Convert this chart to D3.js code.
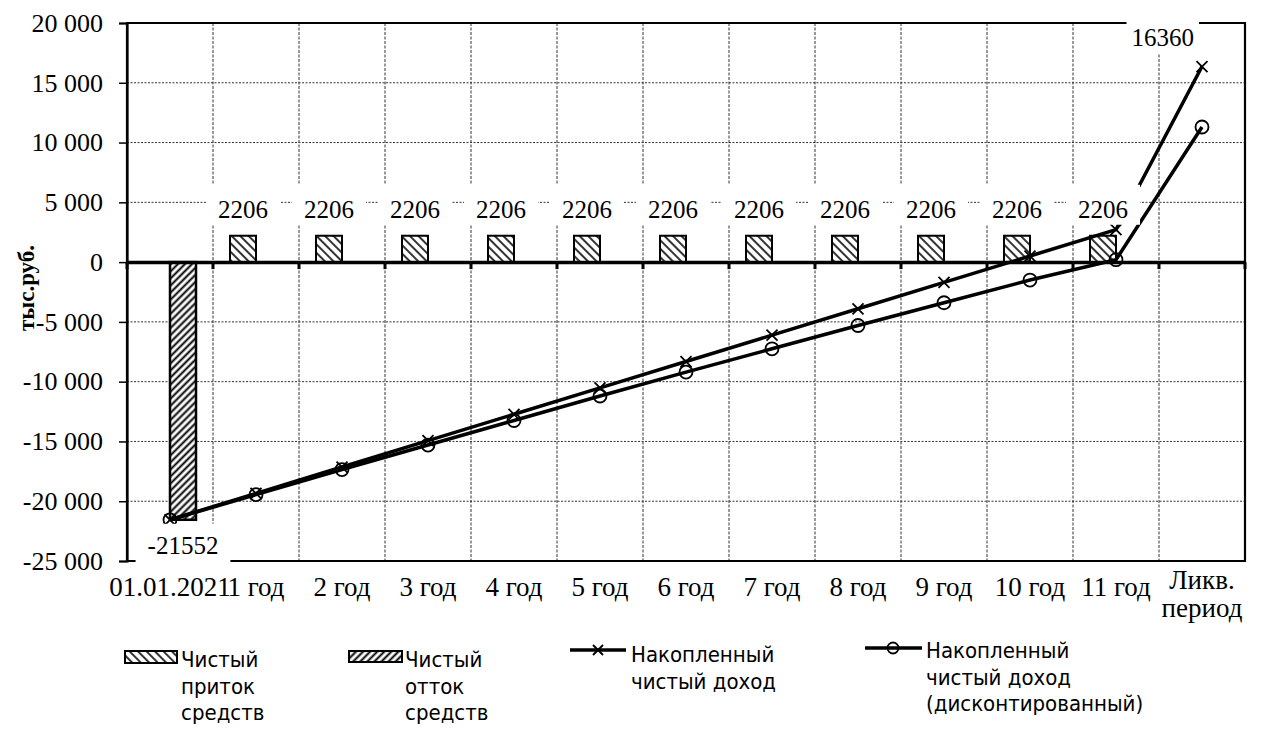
<!DOCTYPE html>
<html><head><meta charset="utf-8">
<script src="https://cdn.jsdelivr.net/npm/d3@7"></script>
<style>body{margin:0;background:#fff}svg{display:block}</style>
</head><body>
<svg id="c" width="1266" height="732"></svg>
<script>
// ---- data ----
const categories = ["01.01.2021","1 год","2 год","3 год","4 год","5 год","6 год","7 год","8 год","9 год","10 год","11 год","Ликв. период"];
const inflow     = [null,2206,2206,2206,2206,2206,2206,2206,2206,2206,2206,2206,null];
const outflow    = [-21552,null,null,null,null,null,null,null,null,null,null,null,null];
const cumulative = [-21552,-19346,-17140,-14934,-12728,-10522,-8316,-6110,-3904,-1698,508,2714,16360];
const discounted = [-21552,-19450,-17350,-15300,-13250,-11200,-9200,-7250,-5300,-3400,-1500,200,11300];
const yTicks     = [-25000,-20000,-15000,-10000,-5000,0,5000,10000,15000,20000];
const legendLabels = [["Чистый","приток","средств"],["Чистый","отток","средств"],["Накопленный","чистый доход"],["Накопленный","чистый доход","(дисконтированный)"]];
const yTitle = "тыс.руб.";

// ---- layout ----
const svg = d3.select("#c");
const L=127, R=1245, T=23, B=561;
const serif = "'Liberation Serif','Times New Roman',serif";
const sans = "'DejaVu Sans Condensed','DejaVu Sans',sans-serif";

const x = d3.scaleBand().domain(d3.range(categories.length)).range([L,R]).padding(0);
const x1 = d3.scaleBand().domain(["in","out"]).range([0,x.bandwidth()]).paddingInner(0).paddingOuter(0.654);
const y = d3.scaleLinear().domain([-25000,20000]).range([B,T]);
const cx = i => x(i)+x.bandwidth()/2;

const loc = d3.formatLocale({decimal:",",thousands:" ",grouping:[3],currency:["",""],minus:"-"});
const fmt = loc.format(",d");

// patterns
const defs = svg.append("defs");
const pIn = defs.append("pattern").attr("id","pIn").attr("patternUnits","userSpaceOnUse")
  .attr("width",6).attr("height",6).attr("patternTransform","rotate(-45)");
pIn.append("rect").attr("width",6).attr("height",6).attr("fill","#fff");
pIn.append("line").attr("x1",3).attr("x2",3).attr("y1",0).attr("y2",6).attr("stroke","#000").attr("stroke-width",1.6);
const pOut = defs.append("pattern").attr("id","pOut").attr("patternUnits","userSpaceOnUse")
  .attr("width",5).attr("height",5).attr("patternTransform","rotate(45)");
pOut.append("rect").attr("width",5).attr("height",5).attr("fill","#fff");
pOut.append("line").attr("x1",2.5).attr("x2",2.5).attr("y1",0).attr("y2",5).attr("stroke","#000").attr("stroke-width",2);

// grid
const grid = svg.append("g");
grid.selectAll("line.h").data(yTicks.filter(v=>v!==0&&v!==-25000&&v!==20000)).join("line")
  .attr("x1",L).attr("x2",R).attr("y1",d=>y(d)).attr("y2",d=>y(d))
  .attr("stroke","#333").attr("stroke-width",1).attr("stroke-dasharray","2,1.5");
grid.selectAll("line.v").data(d3.range(1,categories.length)).join("line")
  .attr("x1",d=>x(d)).attr("x2",d=>x(d)).attr("y1",T).attr("y2",B)
  .attr("stroke","#333").attr("stroke-width",1).attr("stroke-dasharray","3,1.5");

// bars
const bars = svg.append("g");
bars.selectAll("rect.in").data(inflow.map((v,i)=>({v,i})).filter(d=>d.v!=null)).join("rect")
  .attr("x",d=>x(d.i)+x1("in")).attr("width",x1.bandwidth())
  .attr("y",d=>y(d.v)).attr("height",d=>y(0)-y(d.v))
  .attr("fill","url(#pIn)").attr("stroke","#000").attr("stroke-width",2);
bars.selectAll("rect.out").data(outflow.map((v,i)=>({v,i})).filter(d=>d.v!=null)).join("rect")
  .attr("x",d=>x(d.i)+x1("out")).attr("width",x1.bandwidth())
  .attr("y",y(0)).attr("height",d=>y(d.v)-y(0))
  .attr("fill","url(#pOut)").attr("stroke","#000").attr("stroke-width",2.5);

// frame
svg.append("path").attr("d",`M${L},${T}H${R}V${B}H${L}Z`).attr("fill","none").attr("stroke","#000").attr("stroke-width",2.2);

// y axis
const ya = svg.append("g").attr("transform",`translate(${L},0)`)
  .call(d3.axisLeft(y).tickValues(yTicks).tickFormat(fmt).tickSize(8).tickPadding(16));
ya.attr("font-family",serif).attr("font-size",26);
ya.select(".domain").attr("stroke-width",2.2);
ya.selectAll(".tick line").attr("stroke-width",1.5);
ya.selectAll("text").attr("font-family",serif).attr("font-size",26).attr("fill","#000");

// zero axis with ticks
const za = svg.append("g").attr("transform",`translate(0,${y(0)})`)
  .call(d3.axisBottom(x).tickValues([]).tickSizeOuter(0));
za.select(".domain").attr("stroke-width",3.5);
svg.append("g").selectAll("line").data(d3.range(0,categories.length+1)).join("line")
  .attr("x1",d=>d<categories.length?x(d):R).attr("x2",d=>d<categories.length?x(d):R)
  .attr("y1",y(0)).attr("y2",y(0)+7).attr("stroke","#000").attr("stroke-width",3);

// category labels
const cl = svg.append("g").attr("font-family",serif).attr("font-size",27).attr("text-anchor","middle");
categories.forEach((c,i)=>{
  const parts = c.split(" ");
  const t = cl.append("text").attr("x",cx(i)).attr("y",596);
  if (i===categories.length-1){
    t.attr("y",589);
    parts.forEach((p,k)=>t.append("tspan").attr("x",cx(i)).attr("dy",k?28:0).text(p));
  } else t.text(c);
});

// y title
svg.append("text").attr("transform","translate(34,288) rotate(-90)").attr("text-anchor","middle")
  .attr("font-family",serif).attr("font-size",23).attr("font-weight","bold").text(yTitle);

// lines
const line = d3.line().x((d,i)=>cx(i)).y(d=>y(d));
svg.append("path").datum(cumulative).attr("d",line).attr("fill","none").attr("stroke","#000").attr("stroke-width",3.5);
svg.append("path").datum(discounted).attr("d",line).attr("fill","none").attr("stroke","#000").attr("stroke-width",3.5);
svg.append("g").selectAll("path").data(cumulative).join("path")
  .attr("d",(d,i)=>{const a=cx(i),b=y(d),s=5.5;return `M${a-s},${b-s}L${a+s},${b+s}M${a-s},${b+s}L${a+s},${b-s}`;})
  .attr("stroke","#000").attr("stroke-width",1.8).attr("fill","none");
svg.append("g").selectAll("circle").data(discounted).join("circle")
  .attr("cx",(d,i)=>cx(i)).attr("cy",d=>y(d)).attr("r",6.5)
  .attr("fill","none").attr("stroke","#000").attr("stroke-width",1.8);

// data labels with white boxes
const lab = svg.append("g").attr("font-family",serif).attr("font-size",25).attr("fill","#000");
function boxLabel(tx,ty,txt,anchor,px,pt,pb){
  const g = lab.append("g");
  const t = g.append("text").attr("x",tx).attr("y",ty).attr("text-anchor",anchor).text(txt);
  const bb = t.node().getBBox();
  g.insert("rect","text").attr("x",bb.x-px).attr("y",bb.y-pt).attr("width",bb.width+2*px).attr("height",bb.height+pt+pb).attr("fill","#fff");
}
inflow.forEach((v,i)=>{ if(v!=null) boxLabel(x(i)+x1("in")+x1.bandwidth()/2, y(v)-18, String(v), "middle", 12, 11, 2); });
outflow.forEach((v,i)=>{ if(v!=null) boxLabel(x(i)+x1("out")+x1.bandwidth()/2, y(v)+34, String(v), "middle", 12, 8, 9); });
{ const i=cumulative.length-1; boxLabel(cx(i)-8, y(cumulative[i])-21, String(cumulative[i]), "end", 5, 3, 3); }

// legend
const lg = svg.append("g").attr("font-family",sans).attr("font-size",22).attr("fill","#000");
const lh = 26.5;
function legText(xp,yb,lines){ const t=lg.append("text"); lines.forEach((s,k)=>t.append("tspan").attr("x",xp).attr("y",yb+k*lh).text(s)); }
lg.append("rect").attr("x",125).attr("y",651).attr("width",52).attr("height",12).attr("fill","url(#pIn)").attr("stroke","#000").attr("stroke-width",2);
legText(181,667,legendLabels[0]);
lg.append("rect").attr("x",349).attr("y",651).attr("width",53).attr("height",11).attr("fill","url(#pOut)").attr("stroke","#000").attr("stroke-width",2);
legText(405,667,legendLabels[1]);
lg.append("line").attr("x1",570).attr("x2",626).attr("y1",650).attr("y2",650).attr("stroke","#000").attr("stroke-width",3.5);
lg.append("path").attr("d","M593,645L603,655M593,655L603,645").attr("stroke","#000").attr("stroke-width",1.8);
legText(631,662,legendLabels[2]);
lg.append("line").attr("x1",865).attr("x2",922).attr("y1",648).attr("y2",648).attr("stroke","#000").attr("stroke-width",3.5);
lg.append("circle").attr("cx",893).attr("cy",648).attr("r",5.5).attr("fill","none").attr("stroke","#000").attr("stroke-width",1.8);
legText(926,658,legendLabels[3]);
</script>
</body></html>
